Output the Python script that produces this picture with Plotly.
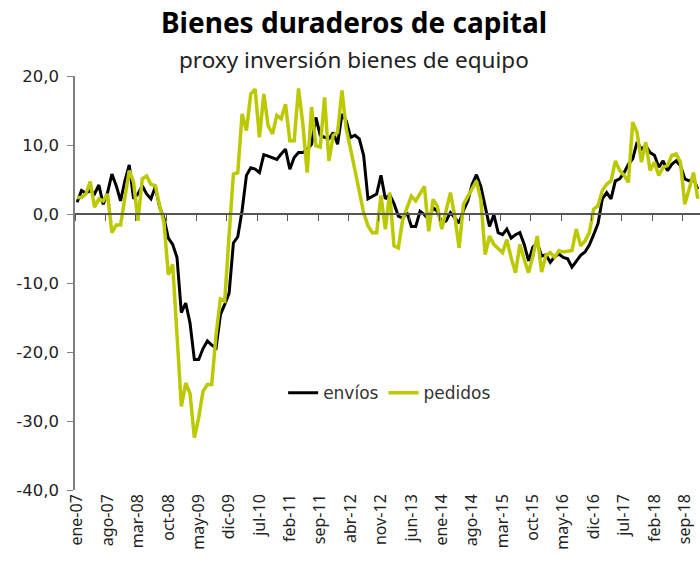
import plotly.graph_objects as go

# ---- data (monthly, ene-07 .. dic-18) ----
mes_abrev = ["ene", "feb", "mar", "abr", "may", "jun", "jul", "ago", "sep", "oct", "nov", "dic"]
years = list(range(2007, 2019))
months = [f"{m}-{str(y)[2:]}" for y in years for m in mes_abrev]

envios = [
    1.7, 3.4, 3.0, 3.4, 2.9, 4.2, 1.4, 3.1, 5.8, 4.1,
    1.9, 4.8, 7.1, 2.2, 2.9, 4.1, 2.9, 2.2, 3.9, 1.0,
    -0.6, -3.5, -4.4, -6.3, -14.3, -12.9, -15.8, -21.1, -21.1, -19.5,
    -18.4, -19.0, -19.4, -14.6, -13.1, -11.5, -4.2, -3.3, 0.5, 5.6,
    6.7, 6.5, 6.0, 8.6, 8.4, 8.2, 7.9, 8.7, 9.4, 6.5,
    8.2, 8.9, 8.9, 9.4, 10.1, 14.0, 11.4, 11.1, 10.9, 11.8,
    10.1, 14.5, 13.5, 11.1, 11.4, 10.9, 8.5, 2.2, 2.6, 2.9,
    5.6, 2.2, 2.8, 1.5, -0.3, -0.6, 0.2, -1.8, -1.8, 0.4,
    -0.1, -0.8, 0.9, 0.4, -1.3, -1.0, 0.2, -0.5, -1.3, 0.5,
    1.9, 4.3, 5.7, 4.0, 1.0, -1.8, -0.1, -2.7, -3.0, -2.2,
    -3.5, -3.0, -2.7, -4.4, -6.8, -4.8, -4.2, -6.1, -5.9, -7.0,
    -6.2, -5.8, -6.3, -6.5, -7.7, -6.8, -6.0, -5.5, -4.5, -3.0,
    -1.4, 2.2, 3.1, 2.2, 4.8, 5.1, 6.0, 7.2, 8.0, 10.4,
    9.4, 9.9, 8.9, 8.5, 6.8, 7.7, 6.3, 7.2, 7.7, 7.0,
    5.1, 4.8, 5.1, 3.6,
]

pedidos = [
    2.4, 2.4, 2.9, 4.7, 1.0, 2.2, 1.9, 2.9, -2.7, -1.6,
    -1.6, 2.4, 6.3, 4.6, -1.0, 5.1, 5.5, 4.3, 4.1, 1.2,
    -1.2, -8.8, -7.3, -17.5, -27.9, -24.5, -26.0, -32.4, -29.5, -25.7,
    -24.7, -24.7, -17.5, -12.3, -12.6, -3.1, 5.8, 6.0, 14.5, 12.1,
    17.4, 18.1, 11.1, 17.4, 12.8, 11.6, 14.3, 13.8, 15.9, 10.6,
    10.6, 18.2, 13.0, 6.0, 15.5, 9.9, 9.7, 16.9, 7.7, 11.4,
    11.8, 17.9, 12.3, 9.4, 6.5, 3.5, 0.2, -1.7, -2.7, -2.7,
    2.7, -2.2, 3.1, -4.6, -4.9, -0.8, 1.0, 2.6, 1.9, 3.0,
    4.0, -2.5, 2.1, 1.1, -2.2, 0.5, 3.1, -0.3, -4.9, 1.4,
    2.5, 3.5, 4.8, 2.1, -5.9, -3.2, -4.4, -5.0, -5.6, -3.7,
    -6.4, -8.5, -4.4, -6.6, -8.5, -6.1, -3.2, -8.4, -6.0, -5.6,
    -6.3, -5.3, -5.5, -5.4, -5.3, -2.2, -4.6, -3.9, -2.7, 0.7,
    1.2, 3.4, 4.3, 4.8, 7.7, 6.3, 5.6, 4.6, 13.3, 11.8,
    7.5, 10.4, 6.3, 7.5, 5.6, 6.8, 7.0, 8.5, 8.7, 7.5,
    1.4, 3.6, 6.0, 2.2,
]

tick_labels = ["ene-07", "ago-07", "mar-08", "oct-08", "may-09", "dic-09", "jul-10",
               "feb-11", "sep-11", "abr-12", "nov-12", "jun-13", "ene-14", "ago-14",
               "mar-15", "oct-15", "may-16", "dic-16", "jul-17", "feb-18", "sep-18"]
y_ticks = [20, 10, 0, -10, -20, -30, -40]
y_tick_text = ["20,0", "10,0", "0,0", "-10,0", "-20,0", "-30,0", "-40,0"]

title = "Bienes duraderos de capital"
subtitle = "proxy inversión bienes de equipo"

# ---- figure ----
idx = list(range(len(months)))
label_pos = [months.index(t) for t in tick_labels]
boundary_ticks = [p - 0.5 for p in label_pos]

fig = go.Figure()
fig.add_trace(go.Scatter(x=idx, y=envios, name="envíos", mode="lines",
                         line=dict(color="#000000", width=3), customdata=months,
                         hovertemplate="%{customdata}: %{y}<extra>envíos</extra>"))
fig.add_trace(go.Scatter(x=idx, y=pedidos, name="pedidos", mode="lines",
                         line=dict(color="#BCC800", width=3.5), customdata=months,
                         hovertemplate="%{customdata}: %{y}<extra>pedidos</extra>"))
fig.add_trace(go.Scatter(x=[None], y=[None], xaxis="x2", showlegend=False,
                         hoverinfo="skip"))

xr = [-0.5, len(months) - 0.5]
fig.update_layout(
    width=700, height=569,
    margin=dict(l=75, r=0, t=76, b=79),
    paper_bgcolor="white", plot_bgcolor="white",
    showlegend=True,
    legend=dict(orientation="h", x=0.333, y=0.234, xanchor="left", yanchor="middle",
                font=dict(family="DejaVu Sans", size=17, color="#333333"),
                bgcolor="rgba(0,0,0,0)", itemwidth=30),
    xaxis=dict(range=xr, tickmode="array", tickvals=label_pos, ticktext=tick_labels,
               tickangle=-90, showline=False, ticks="", showgrid=False, zeroline=False,
               tickfont=dict(family="Noto Sans", size=16, color="#222222")),
    xaxis2=dict(range=xr, overlaying="x", anchor="free", position=2/3,
                tickmode="array", tickvals=boundary_ticks, showticklabels=False,
                ticks="outside", ticklen=6, tickwidth=1.3, tickcolor="#555555",
                showline=True, linecolor="#555555", linewidth=1.5,
                showgrid=False, zeroline=False),
    yaxis=dict(range=[-40, 20], tickmode="array", tickvals=y_ticks, ticktext=y_tick_text,
               showline=True, linecolor="#7f7f7f", linewidth=1.5,
               ticks="outside", ticklen=6, tickcolor="#7f7f7f", tickwidth=1.3,
               showgrid=False, zeroline=False, ticklabelstandoff=5,
               tickfont=dict(family="DejaVu Sans", size=16.5, color="#222222")),
    annotations=[
        dict(text=f"<b>{title}</b>", xref="paper", yref="paper", x=0.446, y=1.131,
             xanchor="center", yanchor="middle", showarrow=False,
             font=dict(family="Noto Sans", size=28, color="#000000")),
        dict(text=subtitle, xref="paper", yref="paper", x=0.446, y=1.039,
             xanchor="center", yanchor="middle", showarrow=False,
             font=dict(family="Noto Sans", size=22.5, color="#222222")),
    ],
)

fig.write_html("out.html", config={"displayModeBar": False},
               post_script="document.body.style.margin='0';document.body.style.overflow='hidden';")
